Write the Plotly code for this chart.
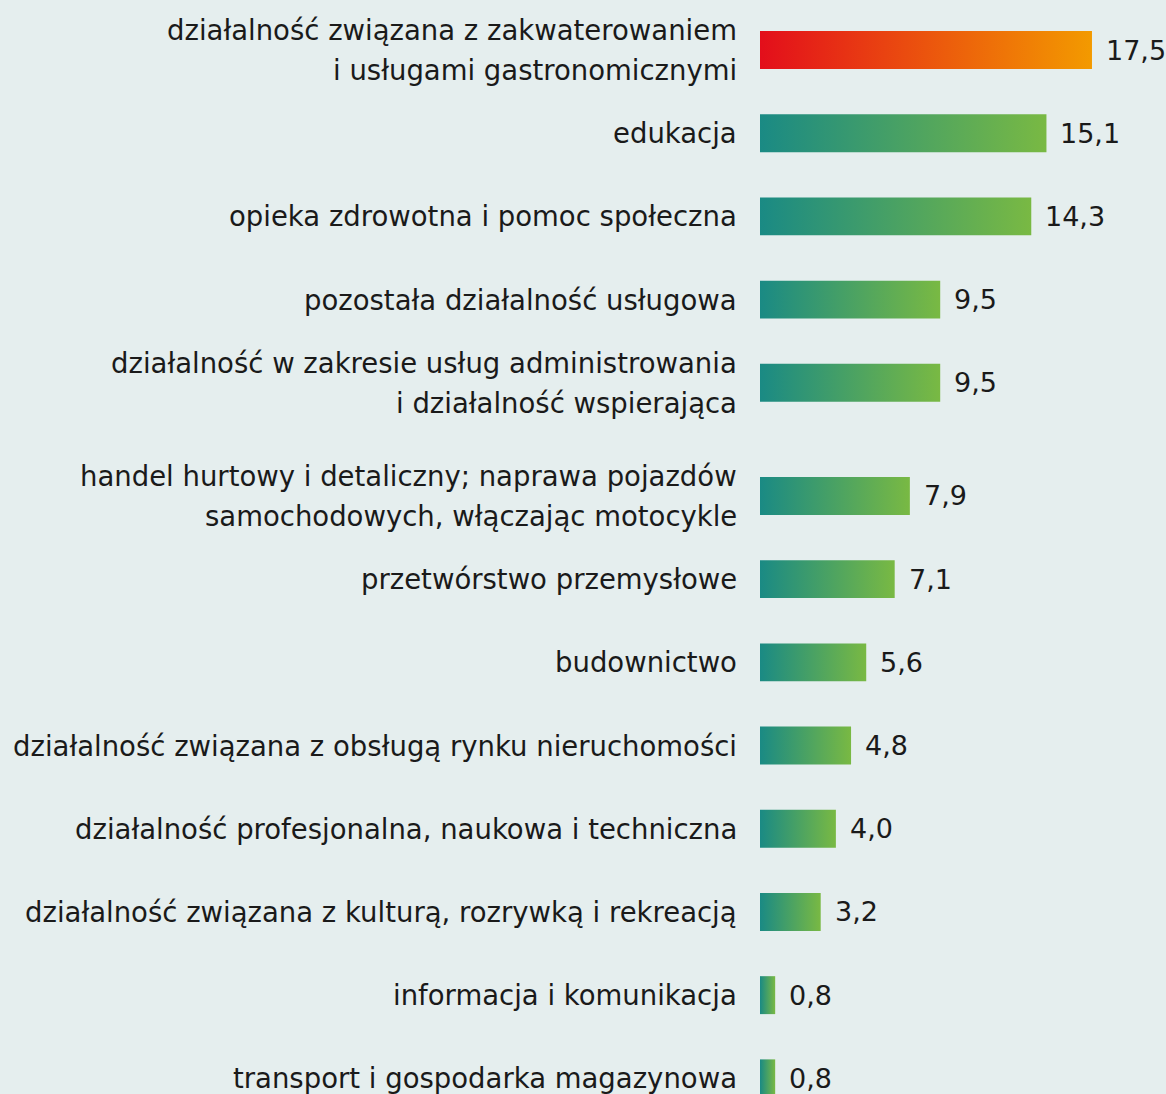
import plotly.graph_objects as go

categories = [
    "działalność związana z zakwaterowaniem<br>i usługami gastronomicznymi",
    "edukacja",
    "opieka zdrowotna i pomoc społeczna",
    "pozostała działalność usługowa",
    "działalność w zakresie usług administrowania<br>i działalność wspierająca",
    "handel hurtowy i detaliczny; naprawa pojazdów<br>samochodowych, włączając motocykle",
    "przetwórstwo przemysłowe",
    "budownictwo",
    "działalność związana z obsługą rynku nieruchomości",
    "działalność profesjonalna, naukowa i techniczna",
    "działalność związana z kulturą, rozrywką i rekreacją",
    "informacja i komunikacja",
    "transport i gospodarka magazynowa",
]
values = [17.5, 15.1, 14.3, 9.5, 9.5, 7.9, 7.1, 5.6, 4.8, 4.0, 3.2, 0.8, 0.8]
value_labels = ["17,5", "15,1", "14,3", "9,5", "9,5", "7,9", "7,1", "5,6", "4,8", "4,0", "3,2", "0,8", "0,8"]

HIGHLIGHT = ["#e30e1b", "#f39a00"]
NORMAL = ["#1a8a84", "#79b943"]
FONT = "DejaVu Sans, Verdana, sans-serif"
TXT = "#1a1a1a"

GAP = 0.36  # extra gap before the 6th row
pos = [i + (GAP if i >= 5 else 0) for i in range(len(categories))]
half = 0.228
LINE = 40  # px between label lines

fig = go.Figure()
for i, (v, y) in enumerate(zip(values, pos)):
    cs = HIGHLIGHT if i == 0 else NORMAL
    fig.add_trace(go.Scatter(
        x=[0, v, v, 0, 0],
        y=[y - half, y - half, y + half, y + half, y - half],
        mode="lines", line=dict(width=0), fill="toself",
        fillgradient=dict(type="horizontal", colorscale=[[0, cs[0]], [1, cs[1]]]),
        hoverinfo="skip", showlegend=False,
    ))
    lines = categories[i].split("<br>")
    n = len(lines)
    for k, ln in enumerate(lines):
        fig.add_annotation(x=0, y=y, text=ln, showarrow=False,
                           xanchor="right", yanchor="middle", xshift=-21,
                           yshift=((n - 1) / 2 - k) * LINE,
                           font=dict(size=27.5, color=TXT, family=FONT))
    fig.add_annotation(x=v, y=y, text=value_labels[i], showarrow=False,
                       xanchor="left", yanchor="middle", xshift=12,
                       font=dict(size=27, color=TXT, family=FONT))

fig.update_layout(
    width=1166, height=1094,
    margin=dict(l=760, r=0, t=0, b=0),
    paper_bgcolor="#e5eeee", plot_bgcolor="#e5eeee",
    xaxis=dict(range=[0, 406 / 18.97], visible=False, fixedrange=True),
    yaxis=dict(range=[(1094 - 50) / 83.2, -50 / 83.2], visible=False, fixedrange=True),
    showlegend=False,
)
fig.write_html("out.html", config={"displayModeBar": False},
               post_script="document.body.style.margin='0';document.body.style.overflow='hidden';")
